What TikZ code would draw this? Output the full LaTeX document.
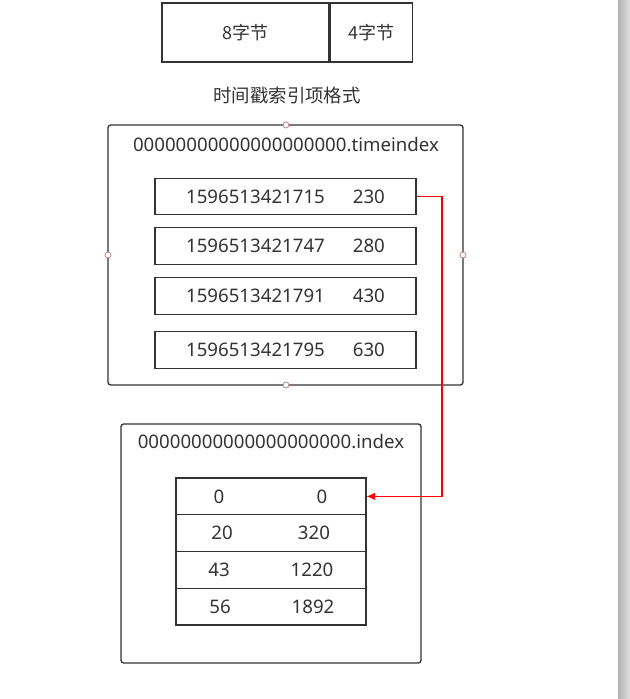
\documentclass[tikz,border=0pt]{standalone}
\usepackage{fontspec}
\setmainfont{Noto Sans}
\newfontfamily\cjk{Noto Sans CJK SC}
\usepackage{tikz}
\usetikzlibrary{arrows.meta, positioning}
\definecolor{ink}{RGB}{51,51,51}
\definecolor{pin}{RGB}{184,110,110}

\begin{document}
\begin{tikzpicture}[x=0.75pt, y=-0.75pt,
  box/.style={draw=ink, line width=1pt, inner sep=0pt, text=ink},
  frame/.style={draw=ink, line width=1pt, rounded corners=2pt},
  row/.style={box, minimum width=195.75pt, minimum height=27.4pt},
  cell/.style={box, outer sep=0pt, minimum width=142.5pt, minimum height=27.55pt},
  pt/.style={draw=pin, fill=white, line width=0.5pt, circle, inner sep=0pt, minimum size=4.5pt},
  ar/.style={-{Latex[length=2.4mm, width=2mm]}, red, line width=1.3pt},
  font=\fontsize{14}{16}\selectfont, text=ink]
\useasboundingbox (0,0) rectangle (630,699);
% side bar
\shade[left color=black!30, right color=black!12] (618,0) rectangle (630,699);
% format row
\node[box, minimum width=125.25pt, minimum height=44.25pt, font=\cjk\fontsize{13.5}{16}\selectfont] (f1) at (245.5,32.5) {8字节};
\node[box, minimum width=61.75pt, minimum height=44.25pt, anchor=west, font=\cjk\fontsize{13.5}{16}\selectfont] (f2) at (f1.east) {4字节};
\node[font=\cjk\fontsize{13.8}{16}\selectfont] (cap) at (287,96) {时间戳索引项格式};
% timeindex file
\draw[frame] (108,125) rectangle (463,385);
\node (tl) at (286,145) {00000000000000000000.timeindex};
\node[row] (a1) at (285.5,196.5) {1596513421715\hspace{1.5em}230};
\node[row] (a2) at (285.5,246) {1596513421747\hspace{1.5em}280};
\node[row] (a3) at (285.5,296) {1596513421791\hspace{1.5em}430};
\node[row] (a4) at (285.5,350) {1596513421795\hspace{1.5em}630};
\node[pt] at (286,125) {}; \node[pt] at (108,255) {};
\node[pt] at (463,255) {}; \node[pt] at (286,385) {};
% index file
\draw[frame] (121,424) rectangle (421,663);
\node (il) at (271,442) {00000000000000000000.index};
\node[cell] (t1) at (271,496.4) {};
\node[cell, below=0pt of t1] (t2) {};
\node[cell, below=0pt of t2] (t3) {};
\node[cell, below=0pt of t3] (t4) {};
\node at (219,496.4) {0};  \node at (322,496.4) {0};
\node at (222,533.1) {20}; \node at (314,533.1) {320};
\node at (219,569.9) {43}; \node at (312,569.9) {1220};
\node at (220,606.6) {56}; \node at (313,606.6) {1892};
% pointer
\draw[ar] (a1.east) -- ++(25,0) |- (t1.east);
\end{tikzpicture}
\end{document}
